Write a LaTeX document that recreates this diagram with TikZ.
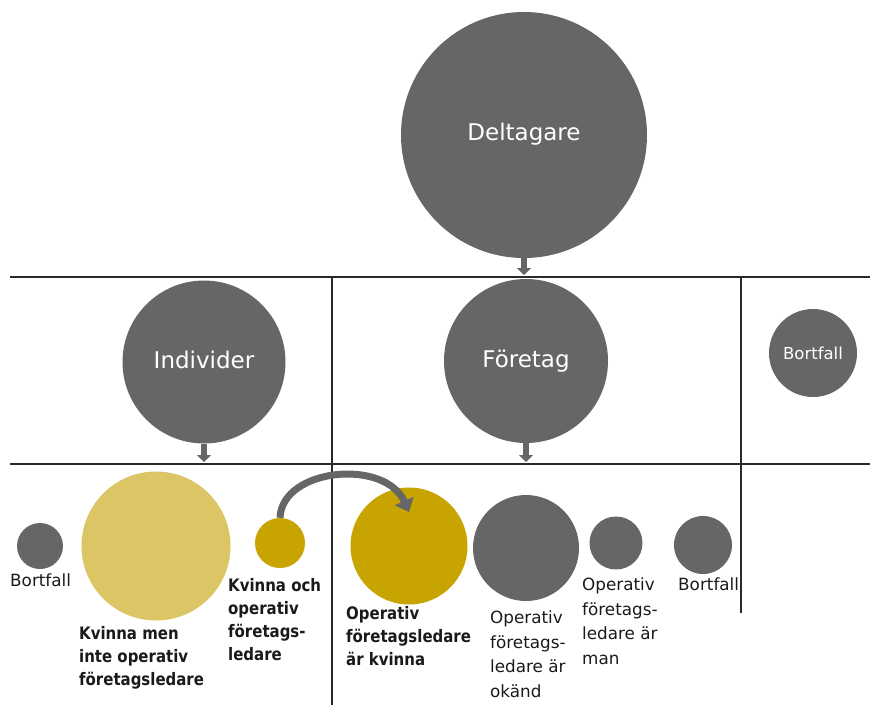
\documentclass[tikz,border=0pt]{standalone}
\usepackage{fontspec}
\setmainfont{DejaVu Sans}
\newfontfamily\narrowsans[FakeStretch=0.87]{DejaVu Sans}
\usetikzlibrary{arrows.meta}
\definecolor{cgray}{HTML}{666666}
\definecolor{clight}{HTML}{DCC564}
\definecolor{cgold}{HTML}{C8A400}
\definecolor{cline}{HTML}{2A2A2A}
\definecolor{ctext}{HTML}{1A1A1A}
\begin{document}
\begin{tikzpicture}[x=1pt,y=-1pt,
  bub/.style={circle, inner sep=0pt, text=white},
  gbub/.style={bub, fill=cgray},
  rule/.style={draw=cline, line width=1.2pt},
  darr/.style={draw=cgray, line width=5.5pt, -{Triangle[width=14pt,length=7pt]}},
  lbl/.style={anchor=north west, align=left, inner sep=0pt, text=ctext, font=\fontsize{16.8}{24.5}\selectfont},
  blbl/.style={lbl, font=\narrowsans\bfseries\fontsize{17.2}{23}\selectfont}
]
\useasboundingbox (0,0) rectangle (870,705);
% grid lines
\draw[rule] (10,277) -- (870,277);
\draw[rule] (10,464) -- (870,464);
\draw[rule] (332,277) -- (332,705);
\draw[rule] (741,277) -- (741,613);
\coordinate (h1) at (0,275);
\coordinate (h2) at (0,462);
% top level
\node[gbub, minimum size=246pt, font=\fontsize{23}{27}\selectfont] (delt) at (524,135) {\raisebox{6pt}{Deltagare}};
\node[gbub, minimum size=163pt, font=\fontsize{23}{27}\selectfont] (indiv) at (204,362) {\raisebox{4pt}{Individer}};
\node[gbub, minimum size=164pt, font=\fontsize{23}{27}\selectfont] (foret) at (526,361) {\raisebox{4pt}{Företag}};
\node[gbub, minimum size=88pt, font=\fontsize{16.5}{20}\selectfont] (bortA) at (813,353) {Bortfall};
\draw[darr] (delt.south) -- (delt.south |- h1);
\draw[darr] (indiv.south) -- (indiv.south |- h2);
\draw[darr] (foret.south) -- (foret.south |- h2);
% bottom row
\node[gbub, minimum size=46pt] (bortB) at (40,546) {};
\node[bub, fill=clight, minimum size=149pt] (kmen) at (156,546) {};
\node[bub, fill=cgold, minimum size=50pt] (koch) at (280,543) {};
\node[bub, fill=cgold, minimum size=117pt] (opk) at (409,546) {};
\node[gbub, minimum size=106pt] (okand) at (526,548) {};
\node[gbub, minimum size=53pt] (man) at (616,543) {};
\node[gbub, minimum size=58pt] (bortC) at (703,545) {};
% labels
\node[lbl] (lbortB) at (10,574) {Bortfall};
\node[blbl] (lkmen) at (79,626) {Kvinna men\\inte operativ\\företagsledare};
\node[blbl] (lkoch) at (228,578) {Kvinna och\\operativ\\företags-\\ledare};
\node[blbl] (lopk) at (346,606) {Operativ\\företagsledare\\är kvinna};
\node[lbl] (lokand) at (490,611) {Operativ\\företags-\\ledare är\\okänd};
\node[lbl] (lman) at (582,578) {Operativ\\företags-\\ledare är\\man};
\node[lbl] (lbortC) at (678,578) {Bortfall};
% curved arrow
\coordinate (tip) at (409,512);
\draw[draw=cgray, line width=7pt, -{Triangle[width=20pt,length=12pt]}]
  (koch.north) .. controls (282,468) and (385,458) .. (tip);
\end{tikzpicture}
\end{document}
